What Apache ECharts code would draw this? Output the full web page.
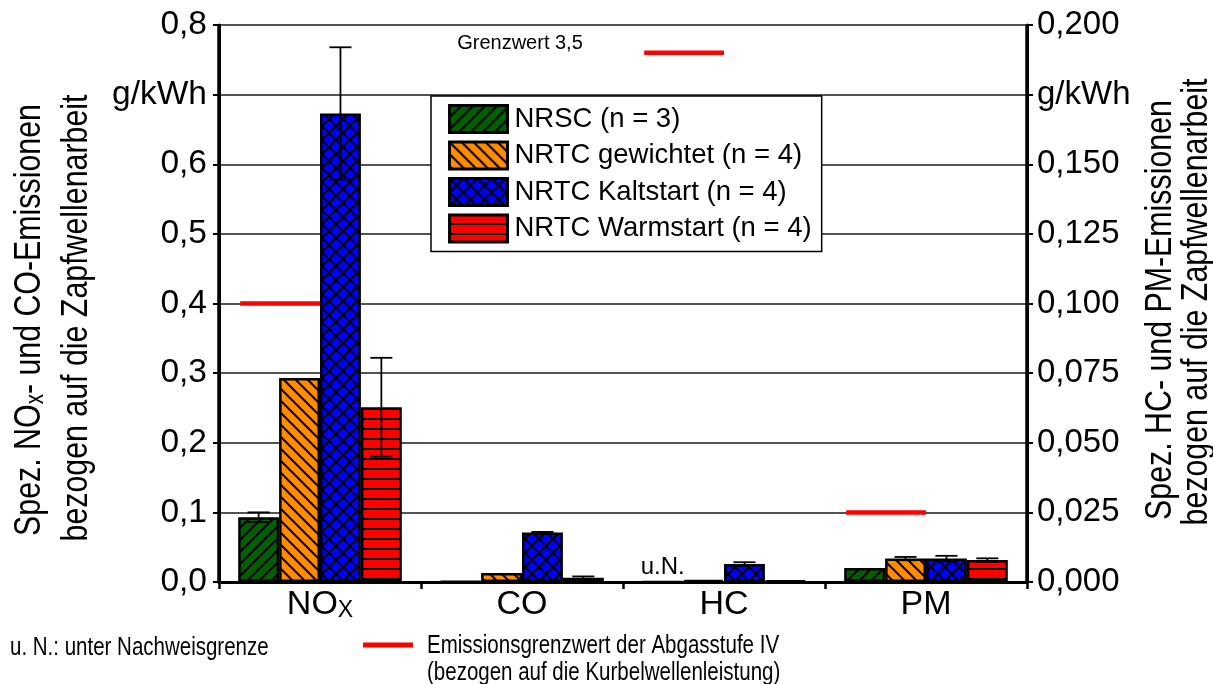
<!DOCTYPE html>
<html>
<head>
<meta charset="utf-8">
<script src="https://cdn.jsdelivr.net/npm/echarts@6/dist/echarts.min.js"></script>
<style>
  html, body { margin: 0; padding: 0; background: #fff; }
  #chart { width: 1213px; height: 684px; }
</style>
</head>
<body>
<div id="chart"></div>
<script>
// Pollutant groups on the x axis
const categories = ['NOx', 'CO', 'HC', 'PM'];
// Test cycles (legend entries)
const seriesNames = ['NRSC (n = 3)', 'NRTC gewichtet (n = 4)', 'NRTC Kaltstart (n = 4)', 'NRTC Warmstart (n = 4)'];

// Left axis, g/kWh: mean and standard deviation per cycle
const noxMean = [0.093, 0.293, 0.673, 0.251];
const noxErr  = [0.007, 0,     0.095, 0.071];
const coMean  = [0.001, 0.013, 0.071, 0.006];
const coErr   = [0,     0,     0.001, 0.002];

// Right axis, g/kWh
const hcMean  = [0,      0.0008, 0.0065, 0.0005];
const hcErr   = [0,      0,      0.0006, 0];
const pmMean  = [0.0050, 0.0084, 0.0084, 0.0079];
const pmErr   = [0,      0.0006, 0.0010, 0.0006];
// HC below detection limit ("u.N.")
const hcBelowDetection = [true, false, false, false];

// Stage IV emission limits (related to crankshaft power)
const limitNOx = 0.4;
const limitCO  = 3.5;
const limitHC  = 0.19;
const limitPM  = 0.025;

// Axis scales
const leftMax = 0.8, leftStep = 0.1, leftUnitTick = 0.7;
const rightMax = 0.2, rightStep = 0.025, rightUnitTick = 0.175;

const SANS = "'Liberation Sans', Arial, sans-serif";
const NARROW_X = 0.82;   // horizontal squeeze for the condensed captions
const GAP = 0.19;

// Hatch fills
function hatch(bg, w, h, draw) {
  const c = document.createElement('canvas');
  c.width = w; c.height = h;
  const g = c.getContext('2d');
  g.fillStyle = bg; g.fillRect(0, 0, w, h);
  g.strokeStyle = '#000'; g.fillStyle = '#000'; g.lineWidth = 2;
  draw(g, w, h);
  return { image: c, repeat: 'repeat' };
}
function fwd(g, s) {
  g.beginPath();
  g.moveTo(-1, s + 1); g.lineTo(s + 1, -1);
  g.moveTo(-1, 1); g.lineTo(1, -1);
  g.moveTo(s - 1, s + 1); g.lineTo(s + 1, s - 1);
  g.stroke();
}
function back(g, s) {
  g.beginPath();
  g.moveTo(-1, -1); g.lineTo(s + 1, s + 1);
  g.moveTo(s - 1, -1); g.lineTo(s + 1, 1);
  g.moveTo(-1, s - 1); g.lineTo(1, s + 1);
  g.stroke();
}
const fills = [
  hatch('#006000', 12, 12, (g, w) => fwd(g, w)),
  hatch('#ff8c00', 12, 12, (g, w) => back(g, w)),
  hatch('#0000ff', 14, 14, (g, w) => { fwd(g, w); back(g, w); }),
  hatch('#ff0000', 10, 10, (g, w, h) => g.fillRect(0, h - 2, w, 2))
];

const fmtDec = (v, d) => v.toFixed(d).replace('.', ',');

const bars = [];
seriesNames.forEach((name, i) => {
  const style = { color: fills[i], borderColor: '#000', borderWidth: 2.5 };
  bars.push({
    type: 'bar', name, xAxisIndex: 0, yAxisIndex: 0,
    barGap: '0%', barCategoryGap: (GAP * 100) + '%',
    itemStyle: style,
    data: [noxMean[i], coMean[i], '-', '-']
  });
  const hcItem = hcBelowDetection[i]
    ? { value: 0, label: { show: true, position: 'top', distance: 1, formatter: 'u.N.',
        fontSize: 24, fontFamily: SANS, color: '#000' } }
    : hcMean[i];
  bars.push({
    type: 'bar', name, xAxisIndex: 1, yAxisIndex: 1,
    barGap: '0%', barCategoryGap: (GAP * 100) + '%',
    itemStyle: style,
    data: ['-', '-', hcItem, pmMean[i]]
  });
});

// Error bars: [category, cycle, mean, sd]
const errLeft = [], errRight = [];
for (let s = 0; s < 4; s++) {
  errLeft.push([0, s, noxMean[s], noxErr[s]], [1, s, coMean[s], coErr[s]]);
  errRight.push([2, s, hcMean[s], hcErr[s]], [3, s, pmMean[s], pmErr[s]]);
}

function barWidth(api) {
  return api.size([1, 0])[0] * (1 - GAP) / 4;
}

function renderError(params, api) {
  const c = api.value(0), s = api.value(1), m = api.value(2), e = api.value(3);
  if (!e) return;
  const bw = barWidth(api);
  const x = api.coord([c, m])[0] - 2 * bw + (s + 0.5) * bw;
  const yT = api.coord([c, m + e])[1];
  const yB = api.coord([c, m - e])[1];
  const cap = bw * 0.27;
  const st = { stroke: '#000', lineWidth: 1.8 };
  return {
    type: 'group',
    children: [
      { type: 'line', shape: { x1: x, y1: yT, x2: x, y2: yB }, style: st },
      { type: 'line', shape: { x1: x - cap, y1: yT, x2: x + cap, y2: yT }, style: st },
      { type: 'line', shape: { x1: x - cap, y1: yB, x2: x + cap, y2: yB }, style: st }
    ]
  };
}

// Limit line over the first two bars of a group; off-scale limits become a note at the top
function renderLimit(params, api) {
  const c = api.value(0), v = api.value(1);
  const bw = barWidth(api);
  const p = api.coord([c, v]);
  const cs = params.coordSys;
  if (p[1] < cs.y) {
    return {
      type: 'text',
      style: { text: 'Grenzwert ' + String(v).replace('.', ','), x: p[0] - 2, y: cs.y + 8,
        align: 'center', verticalAlign: 'top', fontSize: 20, fontFamily: SANS, fill: '#000' }
    };
  }
  return {
    type: 'line',
    shape: { x1: p[0] - 2 * bw + 2, y1: p[1], x2: p[0], y2: p[1] },
    style: { stroke: '#ff0000', lineWidth: 4.5 }
  };
}

// Rotated, condensed axis caption
function caption(x, y, style) {
  return { type: 'text', x, y, rotation: Math.PI / 2, scaleX: NARROW_X, scaleY: 1,
    style: Object.assign({ align: 'center', verticalAlign: 'middle', fontSize: 37,
      fontFamily: SANS, fill: '#000' }, style) };
}
// Condensed footnote line
function note(x, y, text) {
  return { type: 'text', x, y, scaleX: NARROW_X, scaleY: 1,
    style: { text, align: 'left', verticalAlign: 'middle', fontSize: 25, fontFamily: SANS, fill: '#000' } };
}

const option = {
  animation: false,
  backgroundColor: '#fff',
  grid: { left: 219, right: 186, top: 25, bottom: 102, containLabel: false, outerBoundsMode: 'none' },
  legend: {
    data: seriesNames,
    orient: 'vertical',
    left: 431, top: 96,
    padding: [8, 10, 8, 17],
    itemGap: 6.5, itemWidth: 58, itemHeight: 27,
    icon: 'rect',
    itemStyle: { borderColor: '#000', borderWidth: 3 },
    backgroundColor: '#fff', borderColor: '#000', borderWidth: 1.5, borderRadius: 0,
    selectedMode: false,
    textStyle: { fontSize: 27.5, fontFamily: SANS, color: '#000', lineHeight: 27, padding: [0, 0, 0, 2] }
  },
  xAxis: [
    {
      type: 'category', data: categories, position: 'bottom',
      axisLine: { lineStyle: { color: '#000', width: 3 } },
      axisTick: { show: true, length: 7, lineStyle: { color: '#000', width: 2.5 } },
      splitLine: { show: true, interval: (idx) => idx === 2, lineStyle: { color: '#000', width: 3.5 } },
      axisLabel: {
        margin: 6,
        formatter: (v) => v === 'NOx' ? '{m|NO}{s|X}' : '{m|' + v + '}',
        rich: {
          m: { fontSize: 34, fontFamily: SANS, color: '#000', lineHeight: 34, verticalAlign: 'top' },
          s: { fontSize: 23, fontFamily: SANS, color: '#000', lineHeight: 23, padding: [20, 0, 0, 0], verticalAlign: 'bottom' }
        }
      }
    },
    {
      type: 'category', data: categories, position: 'top',
      axisLine: { lineStyle: { color: '#000', width: 3 } },
      axisTick: { show: false }, axisLabel: { show: false }, splitLine: { show: false }
    }
  ],
  yAxis: [
    {
      type: 'value', position: 'left', min: 0, max: leftMax, interval: leftStep,
      axisLine: { show: true, lineStyle: { color: '#000', width: 3 } },
      axisTick: { show: true, length: 6, lineStyle: { color: '#000', width: 2 } },
      splitLine: { show: true, lineStyle: { color: '#1a1a1a', width: 1.5 } },
      axisLabel: {
        margin: 12, fontSize: 33.5, fontFamily: SANS, color: '#000',
        formatter: (v) => Math.abs(v - leftUnitTick) < 1e-9 ? 'g/kWh' : fmtDec(v, 1)
      }
    },
    {
      type: 'value', position: 'right', min: 0, max: rightMax, interval: rightStep,
      axisLine: { show: true, lineStyle: { color: '#000', width: 3 } },
      axisTick: { show: true, length: 6, lineStyle: { color: '#000', width: 2 } },
      splitLine: { show: false },
      axisLabel: {
        margin: 10, fontSize: 33, fontFamily: SANS, color: '#000',
        formatter: (v) => Math.abs(v - rightUnitTick) < 1e-9 ? 'g/kWh' : fmtDec(v, 3)
      }
    }
  ],
  series: bars.concat([
    { type: 'custom', xAxisIndex: 0, yAxisIndex: 0, z: 5, clip: false, silent: true,
      encode: { x: 0, y: 2 }, renderItem: renderError, data: errLeft },
    { type: 'custom', xAxisIndex: 1, yAxisIndex: 1, z: 5, clip: false, silent: true,
      encode: { x: 0, y: 2 }, renderItem: renderError, data: errRight },
    { type: 'custom', xAxisIndex: 0, yAxisIndex: 0, z: 6, clip: false, silent: true,
      encode: { x: 0, y: 1 }, renderItem: renderLimit, data: [[0, limitNOx], [1, limitCO]] },
    { type: 'custom', xAxisIndex: 1, yAxisIndex: 1, z: 6, clip: false, silent: true,
      encode: { x: 0, y: 1 }, renderItem: renderLimit, data: [[2, limitHC], [3, limitPM]] }
  ]),
  graphic: [
    caption(30, 320, { text: '{m|Spez. NO}{s|x}{m|- und CO-Emissionen}',
      rich: {
        m: { fontSize: 37, fontFamily: SANS, fill: '#000', lineHeight: 37, verticalAlign: 'top' },
        s: { fontSize: 25, fontFamily: SANS, fill: '#000', lineHeight: 25, padding: [20, 0, 0, 0], verticalAlign: 'bottom' }
      } }),
    caption(77, 318, { text: 'bezogen auf die Zapfwellenarbeit' }),
    caption(1161, 310, { text: 'Spez. HC- und PM-Emissionen' }),
    caption(1197, 302, { text: 'bezogen auf die Zapfwellenarbeit' }),
    note(10, 648, 'u. N.: unter Nachweisgrenze'),
    { type: 'line', shape: { x1: 363, y1: 645, x2: 413, y2: 645 },
      style: { stroke: '#ff0000', lineWidth: 5 } },
    note(427, 646, 'Emissionsgrenzwert der Abgasstufe IV'),
    note(427, 673, '(bezogen auf die Kurbelwellenleistung)')
  ]
};

const chart = echarts.init(document.getElementById('chart'), null, { renderer: 'canvas' });
chart.setOption(option);
</script>
</body>
</html>
